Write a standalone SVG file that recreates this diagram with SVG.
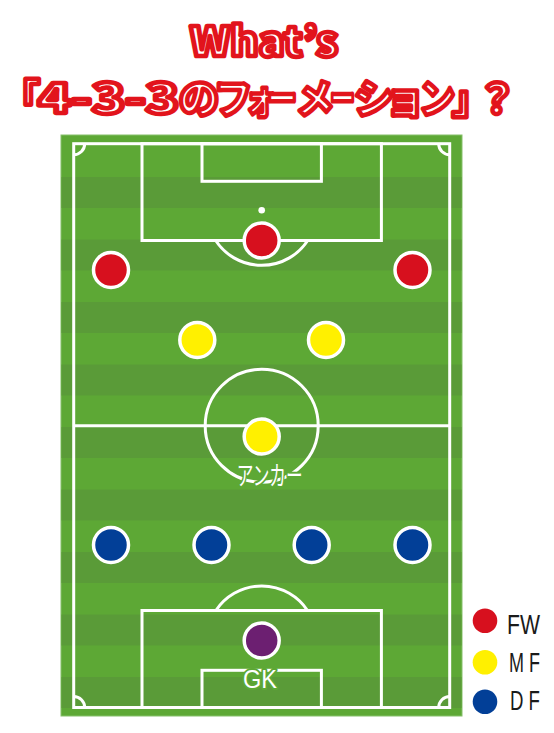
<svg xmlns="http://www.w3.org/2000/svg" width="554" height="733" viewBox="0 0 554 733">
<defs>
<style>
.title{font-family:"Noto Sans CJK JP","Noto Sans",sans-serif;font-weight:900;font-size:40px;fill:#ffffff;stroke:#e2141c;stroke-width:4.5;stroke-linejoin:round}
.stripe{fill:#5a9b38}
.line{fill:none;stroke:#ffffff;stroke-width:3}
.player{stroke:#ffffff;stroke-width:3.5}
.fw{fill:#d7101e}
.mf{fill:#fff000}
.df{fill:#023f97}
.gk{fill:#6c1f71}
.lbl{fill:#ffffff;stroke:#5da835;stroke-width:4;paint-order:stroke;stroke-linejoin:round}
.leg{font-family:"Liberation Sans",Arial,sans-serif;font-size:28px;fill:#1a1a1a}
</style>
</defs>
<rect width="554" height="733" fill="#ffffff"/>
<g id="title">
<text class="title" x="190" y="56" textLength="148" lengthAdjust="spacingAndGlyphs">What’s</text>
<text class="title" y="113"><tspan x="0">「</tspan><tspan x="38" textLength="141" lengthAdjust="spacingAndGlyphs">4-3-3</tspan><tspan x="179">の</tspan><tspan x="214" textLength="38" lengthAdjust="spacingAndGlyphs">フ</tspan><tspan x="245" textLength="32" lengthAdjust="spacingAndGlyphs">ォ</tspan><tspan x="267" textLength="30" lengthAdjust="spacingAndGlyphs">ー</tspan><tspan x="296" textLength="38" lengthAdjust="spacingAndGlyphs">メ</tspan><tspan x="330" textLength="25" lengthAdjust="spacingAndGlyphs">ー</tspan><tspan x="354" textLength="40" lengthAdjust="spacingAndGlyphs">シ</tspan><tspan x="385" textLength="40" lengthAdjust="spacingAndGlyphs">ョ</tspan><tspan x="419" textLength="36" lengthAdjust="spacingAndGlyphs">ン</tspan><tspan x="452">」</tspan><tspan x="477">？</tspan></text>
</g>
<g id="field">
<rect x="61" y="135" width="401" height="581" fill="#5da835" stroke="#86c06a" stroke-width="1"/>
<rect class="stripe" x="61.5" y="177" width="400" height="31"/>
<rect class="stripe" x="61.5" y="239.5" width="400" height="31"/>
<rect class="stripe" x="61.5" y="302" width="400" height="31"/>
<rect class="stripe" x="61.5" y="364.5" width="400" height="31"/>
<rect class="stripe" x="61.5" y="427" width="400" height="31"/>
<rect class="stripe" x="61.5" y="489.5" width="400" height="31"/>
<rect class="stripe" x="61.5" y="552" width="400" height="31"/>
<rect class="stripe" x="61.5" y="614.5" width="400" height="31"/>
<rect class="stripe" x="61.5" y="677" width="400" height="31"/>
<rect class="line" x="73.7" y="143.7" width="376" height="563.8"/>
<line class="line" x1="73.7" y1="425.7" x2="449.7" y2="425.7"/>
<circle class="line" cx="261.7" cy="425.7" r="56.5"/>
<rect class="line" x="142" y="143.7" width="239.4" height="96.8"/>
<rect class="line" x="202" y="143.7" width="119.4" height="37.6"/>
<circle cx="261.7" cy="210.3" r="3.3" fill="#ffffff"/>
<path class="line" d="M215.7 240.5 A55 55 0 0 0 307.7 240.5"/>
<rect class="line" x="142" y="610.5" width="239.4" height="97"/>
<rect class="line" x="202" y="670.3" width="119.4" height="37.2"/>
<path class="line" d="M215.9 610.5 A55 55 0 0 1 307.5 610.5"/>
<path class="line" d="M73.7 154.7 A11 11 0 0 0 84.7 143.7"/>
<path class="line" d="M438.7 143.7 A11 11 0 0 0 449.7 154.7"/>
<path class="line" d="M73.7 696.5 A11 11 0 0 1 84.7 707.5"/>
<path class="line" d="M438.7 707.5 A11 11 0 0 1 449.7 696.5"/>
</g>
<g id="connectors"></g>
<g id="fw-center"><circle class="player fw" cx="261.7" cy="240.5" r="17.5"/></g>
<g id="fw-left"><circle class="player fw" cx="111" cy="270" r="17.5"/></g>
<g id="fw-right"><circle class="player fw" cx="412.5" cy="270" r="17.5"/></g>
<g id="mf-left"><circle class="player mf" cx="197.3" cy="340" r="17.5"/></g>
<g id="mf-right"><circle class="player mf" cx="326" cy="340" r="17.5"/></g>
<g id="anchor">
<circle class="player mf" cx="261.7" cy="436.5" r="17.5"/>
<text class="lbl" x="236.7" y="485" font-family="Noto Sans CJK JP, sans-serif" font-size="26" textLength="66" lengthAdjust="spacingAndGlyphs">アンカー</text>
</g>
<g id="df-1"><circle class="player df" cx="111" cy="545" r="17.5"/></g>
<g id="df-2"><circle class="player df" cx="211.5" cy="545" r="17.5"/></g>
<g id="df-3"><circle class="player df" cx="311.7" cy="545" r="17.5"/></g>
<g id="df-4"><circle class="player df" cx="412.5" cy="545" r="17.5"/></g>
<g id="gk">
<circle class="player gk" cx="261.7" cy="640.5" r="17.5"/>
<text class="lbl" x="243" y="688" font-family="Liberation Sans, Arial, sans-serif" font-size="26" textLength="34" lengthAdjust="spacingAndGlyphs">GK</text>
</g>
<g id="legend">
<circle class="fw" cx="485" cy="620.7" r="12.3"/>
<text class="leg" x="507" y="634" textLength="33" lengthAdjust="spacingAndGlyphs">FW</text>
<circle class="mf" cx="485" cy="662.3" r="12.3"/>
<text class="leg" x="509" y="672" textLength="31" lengthAdjust="spacingAndGlyphs">M F</text>
<circle class="df" cx="485" cy="701.7" r="12.3"/>
<text class="leg" x="510" y="710" textLength="30" lengthAdjust="spacingAndGlyphs">D F</text>
</g>
</svg>
